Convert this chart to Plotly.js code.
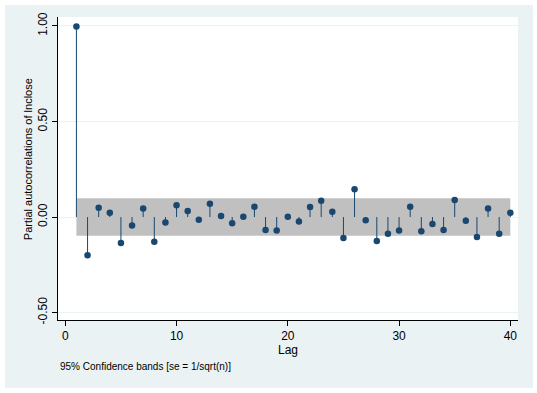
<!DOCTYPE html>
<html>
<head>
<meta charset="utf-8">
<script src="https://cdn.plot.ly/plotly-3.0.1.min.js"></script>
<style>
  html, body { margin: 0; padding: 0; background: #ffffff; }
  #chart { position: absolute; left: 5px; top: 5px; width: 528px; height: 383px; }
</style>
</head>
<body>
<div id="chart"></div>
<script>
// Lags and partial autocorrelations
const lags = [1,2,3,4,5,6,7,8,9,10,11,12,13,14,15,16,17,18,19,20,
              21,22,23,24,25,26,27,28,29,30,31,32,33,34,35,36,37,38,39,40];
const pac = [0.997, -0.200, 0.049, 0.023, -0.136, -0.045, 0.045, -0.129, -0.028, 0.061,
             0.031, -0.014, 0.070, 0.005, -0.033, 0.002, 0.054, -0.068, -0.070, 0.002,
             -0.024, 0.052, 0.085, 0.028, -0.110, 0.145, -0.017, -0.126, -0.087, -0.070,
             0.054, -0.075, -0.037, -0.068, 0.089, -0.019, -0.105, 0.045, -0.087, 0.023];
const ciHalfWidth = 0.098;   // 95% band, se = 1/sqrt(n)
const xTickVals = [0, 10, 20, 30, 40];
const yTickVals = [-0.5, 0, 0.5, 1];
const yTickText = ['-0.50', '0.00', '0.50', '1.00'];
const yTitle = 'Partial autocorrelations of lnclose';
const xTitle = 'Lag';
const note = '95% Confidence bands [se = 1/sqrt(n)]';

const navy = '#1A476F';
const font = 'Liberation Sans, Arial, sans-serif';

// confidence band polygon
const first = lags[0], last = lags[lags.length - 1];
const band = {
  x: [first, last, last, first, first],
  y: [ciHalfWidth, ciHalfWidth, -ciHalfWidth, -ciHalfWidth, ciHalfWidth],
  mode: 'lines', fill: 'toself', fillcolor: '#C0C0C0',
  line: { width: 0, color: '#C0C0C0' }, hoverinfo: 'skip', showlegend: false
};

// stems
const sx = [], sy = [];
lags.forEach((l, i) => { sx.push(l, l, null); sy.push(0, pac[i], null); });
const stems = {
  x: sx, y: sy, mode: 'lines', line: { color: navy, width: 1 },
  hoverinfo: 'skip', showlegend: false
};

const pts = {
  x: lags, y: pac, mode: 'markers',
  marker: { color: navy, size: 6.5 }, showlegend: false
};

const layout = {
  width: 528, height: 383,
  paper_bgcolor: '#EAF2F3', plot_bgcolor: '#ffffff',
  margin: { l: 53, r: 15, t: 12, b: 68 },
  font: { family: font, size: 12, color: '#000000' },
  xaxis: {
    range: [-0.656, 40.69], tickvals: xTickVals, ticks: 'outside', ticklen: 5,
    tickcolor: '#000', showline: true, linecolor: '#000', linewidth: 1,
    showgrid: false, zeroline: false,
    tickfont: { family: font, size: 12, color: '#000' },
    title: { text: xTitle, font: { family: font, size: 12, color: '#000' }, standoff: 2 }
  },
  yaxis: {
    range: [-0.539, 1.047], tickvals: yTickVals, ticktext: yTickText, tickangle: -90,
    ticks: 'outside', ticklen: 5, tickcolor: '#000', showline: true, linecolor: '#000',
    linewidth: 1, showgrid: true, gridcolor: '#EAF2F3', gridwidth: 1, zeroline: false,
    tickfont: { family: font, size: 12, color: '#000' }
  },
  annotations: [{
    text: yTitle, xref: 'paper', yref: 'paper', x: -0.065, y: 0.531,
    xanchor: 'center', yanchor: 'middle', textangle: -90, showarrow: false,
    font: { family: font, size: 11, color: '#000' }
  }, {
    text: note, xref: 'paper', yref: 'paper',
    x: 0, y: -0.152, xanchor: 'left', yanchor: 'middle', showarrow: false,
    font: { family: font, size: 10, color: '#000' }
  }]
};

Plotly.newPlot('chart', [band, stems, pts], layout, { displayModeBar: false, staticPlot: true });
</script>
</body>
</html>
